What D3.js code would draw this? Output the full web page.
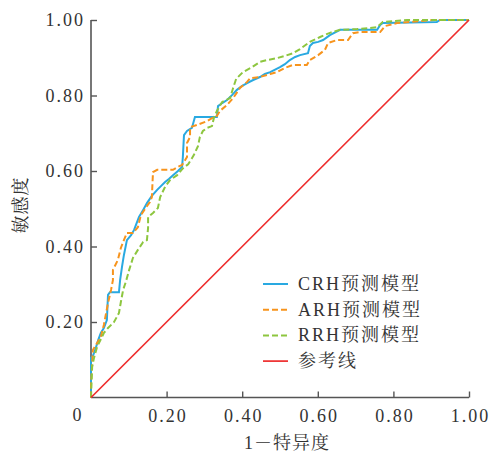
<!DOCTYPE html>
<html><head><meta charset="utf-8">
<script src="https://cdn.jsdelivr.net/npm/d3@7"></script>
<style>
html,body{margin:0;padding:0;background:#fff;}
text{font-family:"Liberation Serif","Times New Roman","Noto Serif CJK SC","Noto Sans CJK SC",serif;fill:#333;}
</style></head>
<body><svg id="c" width="491" height="453"></svg>
<script>
// ROC points [1-specificity, sensitivity]
const crh = [[0,0],[0,0.105],[0.005,0.110],[0.011,0.126],[0.019,0.152],[0.026,0.171],[0.034,0.184],[0.042,0.205],[0.045,0.272],[0.050,0.279],[0.074,0.279],[0.077,0.311],[0.082,0.346],[0.087,0.377],[0.095,0.417],[0.106,0.430],[0.114,0.444],[0.122,0.465],[0.127,0.478],[0.138,0.497],[0.148,0.515],[0.161,0.534],[0.175,0.550],[0.185,0.560],[0.196,0.571],[0.206,0.579],[0.217,0.589],[0.230,0.600],[0.241,0.611],[0.243,0.637],[0.246,0.695],[0.254,0.706],[0.267,0.714],[0.275,0.743],[0.333,0.743],[0.336,0.772],[0.347,0.780],[0.360,0.788],[0.373,0.801],[0.386,0.815],[0.399,0.825],[0.413,0.833],[0.429,0.841],[0.447,0.849],[0.460,0.857],[0.474,0.862],[0.500,0.875],[0.513,0.883],[0.526,0.894],[0.540,0.902],[0.553,0.907],[0.574,0.912],[0.579,0.931],[0.587,0.939],[0.601,0.942],[0.614,0.947],[0.632,0.960],[0.659,0.974],[0.757,0.974],[0.765,0.987],[0.772,0.992],[0.915,0.995],[0.923,1.0],[1,1]];
const arh = [[0,0],[0,0.038],[0.003,0.086],[0.005,0.126],[0.016,0.144],[0.026,0.160],[0.034,0.192],[0.040,0.224],[0.045,0.250],[0.053,0.285],[0.058,0.311],[0.058,0.338],[0.071,0.364],[0.079,0.396],[0.087,0.417],[0.095,0.436],[0.111,0.436],[0.124,0.451],[0.132,0.483],[0.146,0.504],[0.156,0.518],[0.161,0.531],[0.164,0.597],[0.175,0.603],[0.217,0.603],[0.230,0.611],[0.241,0.616],[0.254,0.637],[0.254,0.674],[0.262,0.690],[0.262,0.716],[0.280,0.722],[0.307,0.732],[0.320,0.740],[0.333,0.746],[0.341,0.759],[0.360,0.775],[0.376,0.793],[0.394,0.820],[0.413,0.836],[0.421,0.846],[0.447,0.849],[0.474,0.857],[0.492,0.862],[0.513,0.873],[0.534,0.881],[0.571,0.881],[0.579,0.894],[0.601,0.907],[0.619,0.921],[0.627,0.939],[0.651,0.947],[0.680,0.947],[0.693,0.965],[0.712,0.968],[0.765,0.968],[0.778,0.984],[0.810,0.992],[0.844,0.995],[0.910,1.0],[1,1]];
const rrh = [[0,0],[0.003,0.081],[0.008,0.105],[0.016,0.134],[0.021,0.144],[0.034,0.171],[0.045,0.184],[0.061,0.200],[0.074,0.224],[0.079,0.253],[0.085,0.285],[0.093,0.309],[0.101,0.338],[0.111,0.370],[0.124,0.391],[0.138,0.412],[0.148,0.417],[0.151,0.449],[0.151,0.478],[0.164,0.489],[0.177,0.502],[0.183,0.531],[0.196,0.558],[0.209,0.576],[0.228,0.589],[0.243,0.607],[0.257,0.618],[0.267,0.634],[0.272,0.642],[0.283,0.666],[0.288,0.690],[0.296,0.706],[0.307,0.714],[0.320,0.719],[0.325,0.740],[0.333,0.759],[0.347,0.783],[0.368,0.793],[0.376,0.820],[0.384,0.844],[0.402,0.862],[0.426,0.875],[0.447,0.889],[0.466,0.894],[0.492,0.899],[0.513,0.905],[0.534,0.912],[0.553,0.923],[0.579,0.942],[0.606,0.955],[0.632,0.966],[0.659,0.974],[0.704,0.976],[0.738,0.979],[0.757,0.981],[0.772,0.995],[0.836,1.0],[1,1]];
const refLine = [[0,0],[1,1]];
const seriesNames = ["CRH预测模型","ARH预测模型","RRH预测模型","参考线"];
const tickValues = [0.2,0.4,0.6,0.8,1.0];
const tickLabels = ["0.20","0.40","0.60","0.80","1.00"];
const xTitle = "1－特异度";
const yTitle = "敏感度";

const svg = d3.select("#c");
const L=91, R=469, T=20, B=397.5;
const x = d3.scaleLinear().domain([0,1]).range([L,R]);
const y = d3.scaleLinear().domain([0,1]).range([B,T]);
const axisColor="#555";

const series = [
  {data:crh, color:"#29a9e1", dash:null, w:2},
  {data:arh, color:"#f7941d", dash:"6,3", w:2},
  {data:rrh, color:"#8dc63f", dash:"6,3", w:2},
  {data:refLine, color:"#ee2d2d", dash:null, w:1.7}
];
const line = d3.line().x(d=>x(d[0])).y(d=>y(d[1]));

// axes
const xAxis = d3.axisBottom(x).tickValues(tickValues).tickSize(-6).tickFormat((d,i)=>tickLabels[i]);
const yAxis = d3.axisLeft(y).tickValues(tickValues).tickSize(-6).tickFormat((d,i)=>tickLabels[i]);
const gx = svg.append("g").attr("transform",`translate(0,${B})`).call(xAxis);
const gy = svg.append("g").attr("transform",`translate(${L},0)`).call(yAxis);
[gx,gy].forEach(g=>{
  g.select(".domain").attr("stroke",axisColor).attr("stroke-width",1.6);
  g.selectAll(".tick line").attr("stroke",axisColor).attr("stroke-width",1.4);
  g.selectAll(".tick text").attr("font-size",18).attr("letter-spacing","2px")
    .style("font-family",'"Liberation Serif",serif').attr("fill","#333");
});
gx.select(".domain").attr("d",`M${L},0H${R}`);
gy.select(".domain").attr("d",`M0,${B}V${T}`);
gx.selectAll(".tick text").attr("y",12).attr("dy","0.71em").attr("dx","1px");
gy.selectAll(".tick text").attr("x",-6).attr("dx","0");
// origin label
svg.append("text").attr("x",77).attr("y",421).attr("text-anchor","middle").attr("font-size",18).text("0");

// curves
series.forEach(s=>{
  svg.append("path").attr("d",line(s.data)).attr("fill","none")
    .attr("stroke",s.color).attr("stroke-width",s.w)
    .attr("stroke-dasharray",s.dash).attr("stroke-linejoin","miter");
});

// titles
svg.append("text").attr("x",287).attr("y",449).attr("text-anchor","middle").attr("font-size",18).attr("letter-spacing","1px").text(xTitle);
svg.append("text").attr("transform","translate(27,205) rotate(-90)").attr("text-anchor","middle").attr("font-size",18).attr("letter-spacing","1px").text(yTitle);

// legend
const lg = svg.append("g");
series.forEach((s,i)=>{
  const yy = 284 + i*25.7;
  lg.append("line").attr("x1",263).attr("x2",288).attr("y1",yy).attr("y2",yy)
    .attr("stroke",s.color).attr("stroke-width",s.w).attr("stroke-dasharray",s.dash);
  lg.append("text").attr("x",298).attr("y",yy+6).attr("font-size",18).attr("letter-spacing","2px").text(seriesNames[i]);
});
</script></body></html>
